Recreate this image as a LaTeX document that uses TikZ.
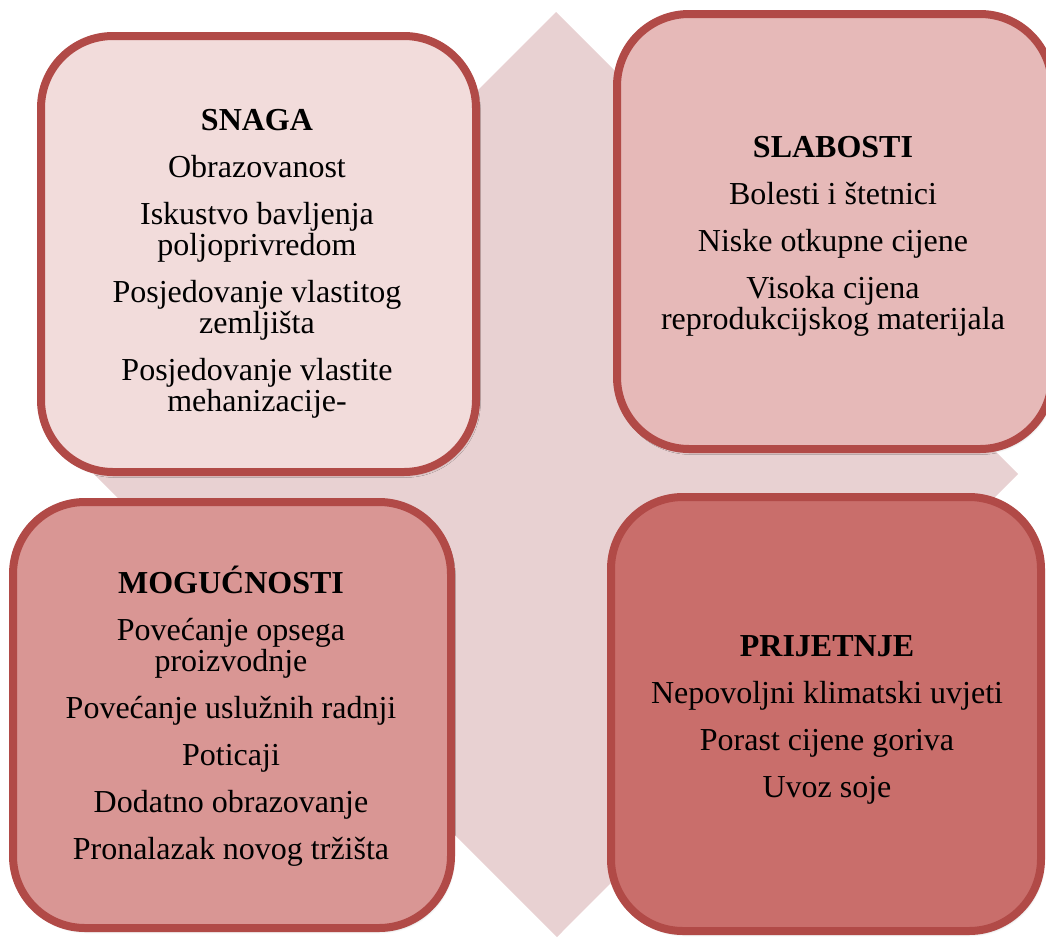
\documentclass[tikz,border=0pt]{standalone}
\usepackage{fontspec}
\setmainfont{Liberation Serif}
\usetikzlibrary{shadows.blur}
\definecolor{bordercol}{HTML}{B14A47}
\definecolor{diamcol}{HTML}{E8D1D2}
\definecolor{fillS}{HTML}{F2DCDB}
\definecolor{fillW}{HTML}{E6B9B8}
\definecolor{fillO}{HTML}{D99694}
\definecolor{fillT}{HTML}{C96E6B}
\tikzset{
  swotbox/.style={draw=bordercol, line width=8pt, rounded corners=72pt, inner sep=0pt,
    blur shadow={shadow xshift=1.5pt, shadow yshift=-2.5pt, shadow blur radius=3pt, shadow opacity=35}},
  swottext/.style={align=center, inner sep=0pt, anchor=base, font=\fontsize{32}{31}\selectfont},
}
\begin{document}
\begin{tikzpicture}[x=1pt,y=-1pt]
\useasboundingbox (0,0) rectangle (1046,937);
\clip (0,0) rectangle (1046,937);
\fill[diamcol] (556,12) -- (1018,474) -- (557,937) -- (94,474) -- cycle;

\node[swotbox, fill=fillS, minimum width=435pt, minimum height=436pt] (snaga) at (258.5,254) {};
\node[swotbox, fill=fillW, minimum width=435pt, minimum height=435pt] (slabosti) at (834.5,231.5) {};
\node[swotbox, fill=fillO, minimum width=438pt, minimum height=426pt] (moguc) at (232,715) {};
\node[swotbox, fill=fillT, minimum width=430pt, minimum height=434pt] (prijet) at (826,714) {};

\node[swottext] (tS) at (257,411) {\textbf{SNAGA}\\[16pt]Obrazovanost\\[16pt]Iskustvo bavljenja\\poljoprivredom\\[16pt]Posjedovanje vlastitog\\zemljišta\\[16pt]Posjedovanje vlastite\\mehanizacije-};
\node[swottext] (tW) at (833,329) {\textbf{SLABOSTI}\\[16pt]Bolesti i štetnici\\[16pt]Niske otkupne cijene\\[16pt]Visoka cijena\\reprodukcijskog materijala};
\node[swottext] (tO) at (231,859) {\textbf{MOGUĆNOSTI}\\[16pt]Povećanje opsega\\proizvodnje\\[16pt]Povećanje uslužnih radnji\\[16pt]Poticaji\\[16pt]Dodatno obrazovanje\\[16pt]Pronalazak novog tržišta};
\node[swottext] (tT) at (827,797) {\textbf{PRIJETNJE}\\[16pt]Nepovoljni klimatski uvjeti\\[16pt]Porast cijene goriva\\[16pt]Uvoz soje};
\end{tikzpicture}
\end{document}
